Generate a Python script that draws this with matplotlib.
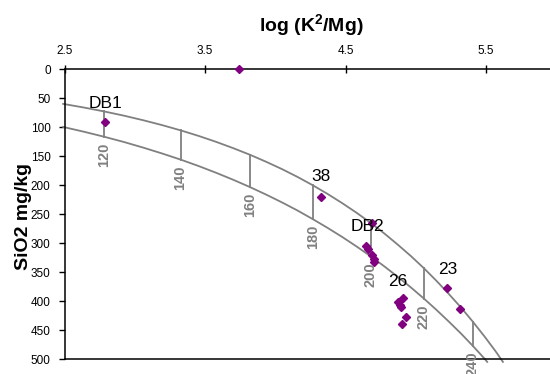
import matplotlib
matplotlib.use("Agg")
import matplotlib.pyplot as plt

plt.rcParams['font.family'] = ['Liberation Sans', 'DejaVu Sans']
plt.rcParams['mathtext.fontset'] = 'custom'
plt.rcParams['mathtext.rm'] = 'Liberation Sans:bold'
plt.rcParams['mathtext.bf'] = 'Liberation Sans:bold'
plt.rcParams['mathtext.default'] = 'bf'

# geothermometer grid: temperature, log(K2/Mg), SiO2 for quartz (upper) and chalcedony (lower)
tempC = [110, 115, 120, 125, 130, 135, 140, 145, 150, 155, 160, 165, 170, 175, 180,
         185, 190, 195, 200, 205, 210, 215, 220, 225, 230, 235, 240, 245, 250]
logKMg = [2.490, 2.638, 2.783, 2.924, 3.061, 3.195, 3.326, 3.454, 3.578, 3.700,
          3.819, 3.935, 4.049, 4.160, 4.268, 4.374, 4.478, 4.580, 4.680, 4.777,
          4.872, 4.966, 5.058, 5.147, 5.235, 5.322, 5.406, 5.489, 5.570]
sio2Qtz = [59.4, 65.7, 72.5, 79.8, 87.7, 96.1, 105.1, 114.7, 124.9, 135.8,
           147.2, 159.4, 172.2, 185.8, 200.1, 215.2, 231.1, 247.7, 265.1, 283.4,
           302.6, 322.4, 343.3, 365.0, 387.7, 411.2, 435.6, 461.1, 487.4]
sio2Chal = [99.2, 107.5, 116.2, 125.3, 135.0, 145.1, 155.6, 166.7, 178.3, 190.4,
            203.0, 216.1, 229.7, 243.8, 258.6, 273.8, 289.5, 305.9, 322.8, 340.2,
            358.1, 376.6, 395.7, 415.2, 435.4, 456.1, 477.4, 499.4, 521.8]
qtzEnd = (5.620, 505)
chalEnd = (5.508, 505)
labelTemps = [120, 140, 160, 180, 200, 220, 240]

# samples
sampleX = [3.744, 2.79, 4.323, 4.686, 4.646, 4.657, 4.689, 4.699, 4.706,
           4.870, 4.884, 4.895, 4.909, 4.928, 4.901, 5.225, 5.315]
sampleY = [0, 91, 220, 265, 305, 310, 320, 327, 333,
           401, 406, 410, 395, 428, 440, 377, 414]
sampleNames = ["DB1", "38", "DB2", "26", "23"]
nameX = [2.79, 4.323, 4.655, 4.871, 5.225]
nameY = [58, 185, 271, 367, 345]

GREY = "#808080"

fig = plt.figure(figsize=(5.5, 3.74), dpi=100)
ax = fig.add_axes([0.1173, 0.0401, 0.8827, 0.7741])

# curves (lower one stops just past the axis bottom)
nq = len(tempC)
nc = tempC.index(245) + 1
ax.plot(logKMg[:nq] + [qtzEnd[0]], sio2Qtz + [qtzEnd[1]], color=GREY, lw=1.3, clip_on=False)
ax.plot(logKMg[:nc] + [chalEnd[0]], sio2Chal[:nc] + [chalEnd[1]], color=GREY, lw=1.3, clip_on=False)

# isotherms with labels
for t in labelTemps:
    i = tempC.index(t)
    ax.plot([logKMg[i], logKMg[i]], [sio2Qtz[i], sio2Chal[i]], color=GREY, lw=1.3, clip_on=False)
    ax.annotate(str(t), (logKMg[i], sio2Chal[i]), xytext=(0, -4), textcoords="offset points",
                rotation=90, ha="center", va="top", color=GREY, fontsize=10.5,
                fontweight="bold", annotation_clip=False)

ax.plot(sampleX, sampleY, linestyle="none", marker="D", markersize=4.3,
        color="#800080", clip_on=False, zorder=3)

for name, x, y in zip(sampleNames, nameX, nameY):
    ax.text(x, y, name, ha="center", va="center", fontsize=12.5, color="black", zorder=4)

ax.set_xlim(2.5, 5.955)
ax.set_ylim(500, 0)
ax.set_xticks([2.5, 3.5, 4.5, 5.5])
ax.set_xticklabels(["2.5", "3.5", "4.5", "5.5"])
ax.set_yticks(range(0, 501, 50))
ax.xaxis.tick_top()
ax.tick_params(axis="x", direction="inout", length=6, width=1, pad=6, labelsize=8.5, colors="black")
ax.tick_params(axis="y", direction="out", length=4, width=1, pad=6, labelsize=8.5)

ax.spines["right"].set_visible(False)
for s in ["top", "left", "bottom"]:
    ax.spines[s].set_linewidth(1.1)

fig.text(311 / 550, 1 - 25 / 374, r"log (K$^{2}$/Mg)", ha="center", va="center",
         fontsize=14, fontweight="bold")
fig.text(24 / 550, 1 - 216 / 374, "SiO2 mg/kg", ha="center", va="center",
         rotation=90, fontsize=14, fontweight="bold")

fig.savefig("out.png", dpi=100)
